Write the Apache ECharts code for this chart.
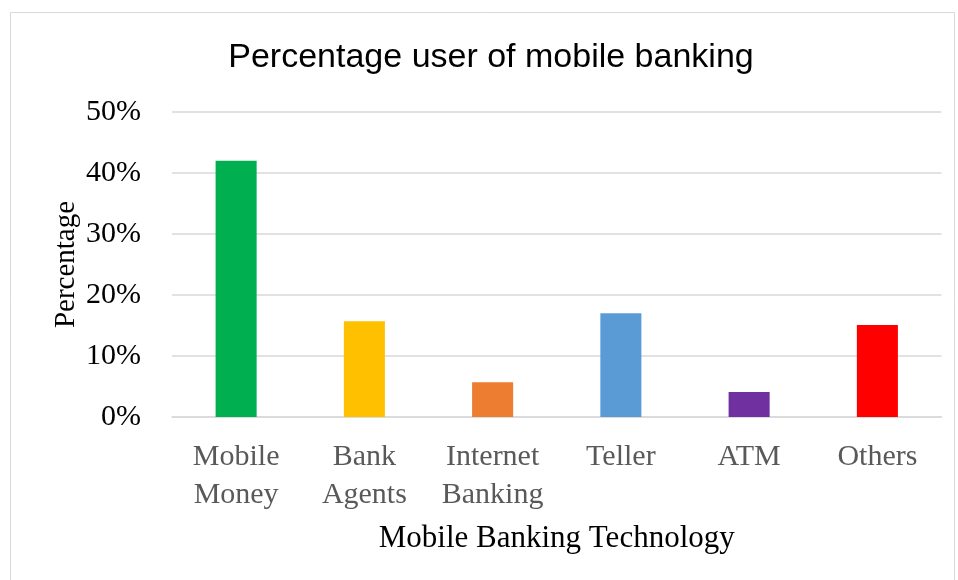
<!DOCTYPE html>
<html>
<head>
<meta charset="utf-8">
<title>Percentage user of mobile banking</title>
<script src="https://cdn.jsdelivr.net/npm/echarts@6/dist/echarts.min.js"></script>
<style>
  html, body { margin: 0; padding: 0; background: #ffffff; }
  #chart { width: 958px; height: 580px; }
</style>
</head>
<body>
<div id="chart"></div>
<script>
// Usage share per mobile banking channel (percent)
const categories = ['Mobile Money', 'Bank Agents', 'Internet Banking', 'Teller', 'ATM', 'Others'];
const shares = [42, 15.7, 5.7, 17.0, 4.1, 15.1];
const barColors = ['#00B050', '#FFC000', '#ED7D31', '#5B9BD5', '#7030A0', '#FF0000'];
const yTicks = { min: 0, max: 50, step: 10 };

const serif = '"Liberation Serif", "Times New Roman", serif';
const gridGray = '#d9d9d9';

const chart = echarts.init(document.getElementById('chart'), null, { renderer: 'canvas' });

chart.setOption({
  backgroundColor: '#ffffff',
  animation: false,
  title: {
    text: 'Percentage user of mobile banking',
    left: 486,
    top: 36,
    textAlign: 'center',
    textStyle: {
      fontFamily: '"Liberation Sans", Arial, sans-serif',
      fontSize: 34,
      fontWeight: 'normal',
      color: '#000000'
    }
  },
  graphic: [{
    type: 'rect',
    silent: true,
    shape: { x: 10.5, y: 12.5, width: 944, height: 580 },
    style: { fill: 'none', stroke: '#d9d9d9', lineWidth: 1 }
  }],
  grid: { left: 172, right: 16.5, top: 112, bottom: 163, containLabel: false },
  xAxis: {
    type: 'category',
    data: categories,
    name: 'Mobile Banking Technology',
    nameLocation: 'middle',
    nameGap: 106,
    nameTextStyle: { fontFamily: serif, fontSize: 31, color: '#000000' },
    axisLine: { show: true, lineStyle: { color: gridGray, width: 1.5 } },
    axisTick: { show: false },
    axisLabel: {
      interval: 0,
      margin: 21,
      fontFamily: serif,
      fontSize: 30,
      lineHeight: 38,
      color: '#595959',
      formatter: v => v.replace(' ', '\n')
    }
  },
  yAxis: {
    type: 'value',
    min: yTicks.min,
    max: yTicks.max,
    interval: yTicks.step,
    name: 'Percentage',
    nameLocation: 'middle',
    nameGap: 91,
    nameMoveOverlap: false,
    nameRotate: 90,
    nameTextStyle: { fontFamily: serif, fontSize: 29, color: '#000000' },
    axisLine: { show: false },
    axisTick: { show: false },
    splitLine: { lineStyle: { color: gridGray, width: 1.5 } },
    axisLabel: {
      margin: 31,
      fontFamily: serif,
      fontSize: 30,
      color: '#000000',
      formatter: '{value}%'
    }
  },
  series: [{
    type: 'bar',
    barWidth: '32%',
    data: shares.map((v, i) => ({ value: v, itemStyle: { color: barColors[i] } }))
  }]
});
</script>
</body>
</html>
